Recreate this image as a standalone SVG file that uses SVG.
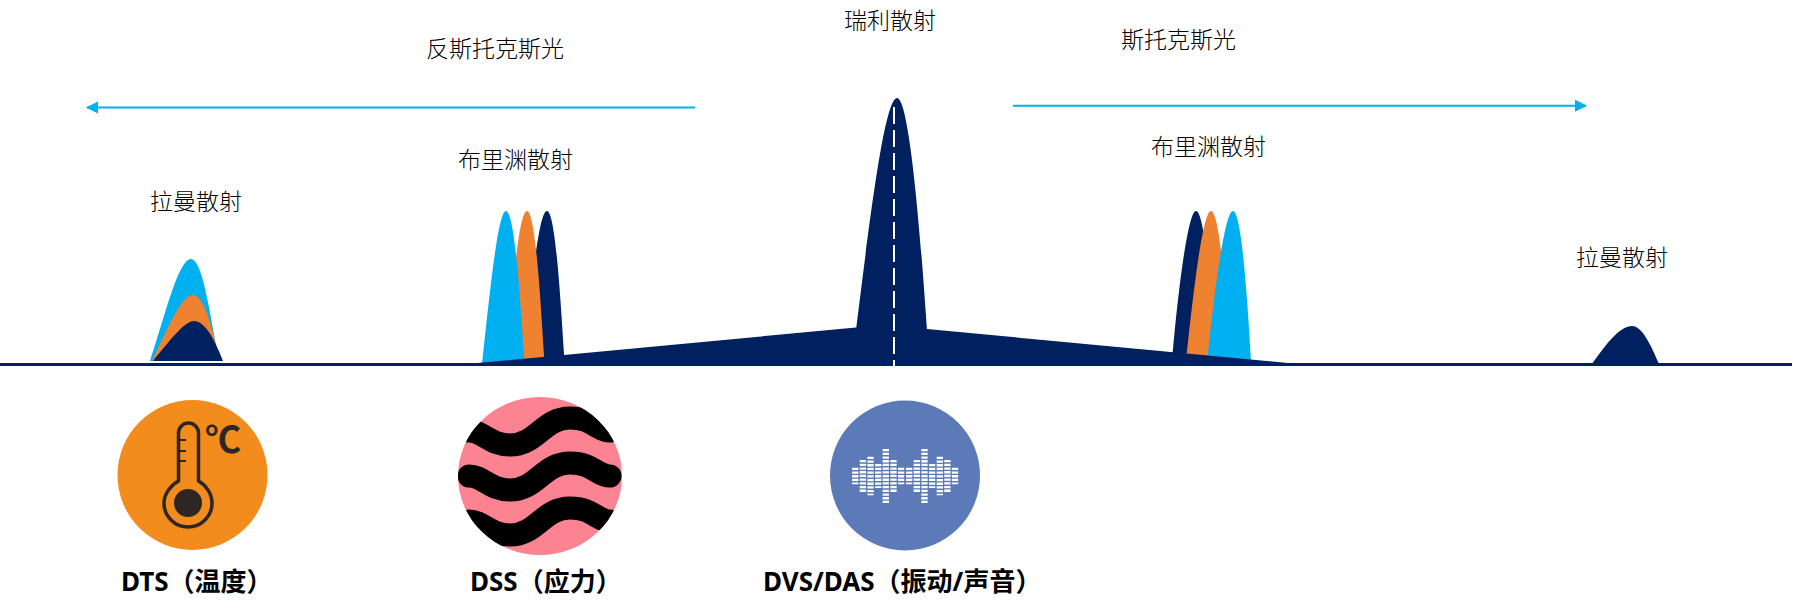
<svg xmlns="http://www.w3.org/2000/svg" width="1793" height="612" viewBox="0 0 1793 612">
<style>
.t{font-family:"Noto Sans CJK SC","Noto Sans",sans-serif;font-size:23px;font-weight:300;fill:#000}
.b{font-family:"Noto Sans","Noto Sans CJK SC",sans-serif;font-size:26px;font-weight:700;fill:#000}
.n{fill:#002060}.c{fill:#00B0F0}.o{fill:#EE8230}
</style>
<defs>
<marker id="ah" markerUnits="userSpaceOnUse" markerWidth="13" markerHeight="13" refX="11" refY="6" orient="auto"><path d="M0 0L12 6L0 12Z" fill="#00B0F0"/></marker>
<clipPath id="dssclip"><ellipse cx="540" cy="476" rx="82" ry="79"/></clipPath>
<path id="wave" d="M469 476C483 476 490 490 510 490C537 490 543 463 570 463C593 463 597 476 610 476" fill="none" stroke="#000" stroke-width="23" stroke-linecap="round"/>
</defs>
<rect width="1793" height="612" fill="#fff"/>
<g id="raman-left">
<path class="c" d="M150 361C164 320 178 259 191 259C203 259 211 320 219 361Z"/>
<path class="o" d="M152 361C167 330 181 295 193 295C205 295 214 335 220 361Z"/>
<path class="n" d="M153 361C170 340 185 321 194 321C206 321 216 343 223 361Z"/>
</g>
<g id="brillouin-left">
<path class="n" d="M524 364C532 280 539 211 547 211C555 211 560 290 564 354L565 364Z"/>
<path class="o" d="M505 364C513 285 519 211 527 211C535 211 540 290 544 356L545 364Z"/>
<path class="c" d="M482 364C490 290 498 211 506 211C514 211 520 290 524 358L525 364Z"/>
</g>
<g id="brillouin-right">
<path class="n" d="M1172 360C1178 290 1188 211 1196 211C1204 211 1210 280 1214 360Z"/>
<path class="o" d="M1186 360C1194 285 1203 211 1211 211C1219 211 1225 285 1231 360Z"/>
<path class="c" d="M1207 362C1215 285 1225 211 1233 211C1241 211 1247 290 1251 362Z"/>
</g>
<g id="spectrum">
<path class="n" d="M0 363H1792V366H0Z"/>
<path class="n" d="M472 363.500L856 327.500L927 329L1293 363.500V366H472Z"/>
<path id="rayleigh" class="n" d="M856 330C868 235 884 98 897 98C909 98 920 225 927 331L927 366H856Z"/>
<line x1="894" y1="107" x2="894" y2="366" stroke="#fff" stroke-width="2" stroke-dasharray="17 6"/>
<path id="raman-right" class="n" d="M1592 364C1605 346 1619 326 1632 326C1642 326 1651 345 1659 364Z"/>
</g>
<g id="connectors">
<line x1="695" y1="107.500" x2="87" y2="107.500" stroke="#00B0F0" stroke-width="2" marker-end="url(#ah)"/>
<line x1="1013" y1="105.700" x2="1586" y2="105.700" stroke="#00B0F0" stroke-width="2" marker-end="url(#ah)"/>
</g>
<g id="labels">
<text class="t" x="426" y="57">反斯托克斯光</text>
<text class="t" x="844" y="29">瑞利散射</text>
<text class="t" x="1121" y="48">斯托克斯光</text>
<text class="t" x="458" y="168">布里渊散射</text>
<text class="t" x="1151" y="155">布里渊散射</text>
<text class="t" x="150" y="210">拉曼散射</text>
<text class="t" x="1576" y="266">拉曼散射</text>
</g>
<g id="dts">
<circle cx="192.500" cy="475" r="75" fill="#F28C1C"/>
<path d="M178.500 481V433a10 10 0 0 1 20 0V481C206 485 212 494 212 503a24 24 0 0 1-48 0C164 494 171 485 178.500 481Z" fill="none" stroke="#2E2623" stroke-width="3.500"/>
<circle cx="188" cy="503" r="14" fill="#2E2623"/>
<path d="M180 440h6M180 451h6M180 461h6" stroke="#2E2623" stroke-width="2" fill="none"/>
<text x="205" y="453" font-family="Noto Sans CJK SC,sans-serif" font-size="36" font-weight="700" fill="#2E2623">℃</text>
<text class="b" x="121" y="591">DTS（温度）</text>
</g>
<g id="dss">
<ellipse cx="540" cy="476" rx="82" ry="79" fill="#FC8391"/>
<g clip-path="url(#dssclip)">
<use href="#wave" y="-45"/>
<use href="#wave"/>
<use href="#wave" y="45"/>
</g>
<text class="b" x="470" y="591">DSS（应力）</text>
</g>
<g id="dvs">
<circle cx="905" cy="475.500" r="75" fill="#5B7AB7"/>
<path d="M855.300 467.700V484.300M862.900 460V492M870.500 456.700V495.300M878.200 464V488M885.800 449V503M893.500 460V492M901.100 467.700V484.300M909.200 467.700V484.300M916.800 460V492M924.500 449V503M932.100 464V488M939.800 456.700V495.300M947.400 460V492M955 467.700V484.300" fill="none" stroke="#fff" stroke-width="6.300" stroke-dasharray="2.300 1.400"/>
<text class="b" x="763" y="591">DVS/DAS（振动/声音）</text>
</g>
</svg>
